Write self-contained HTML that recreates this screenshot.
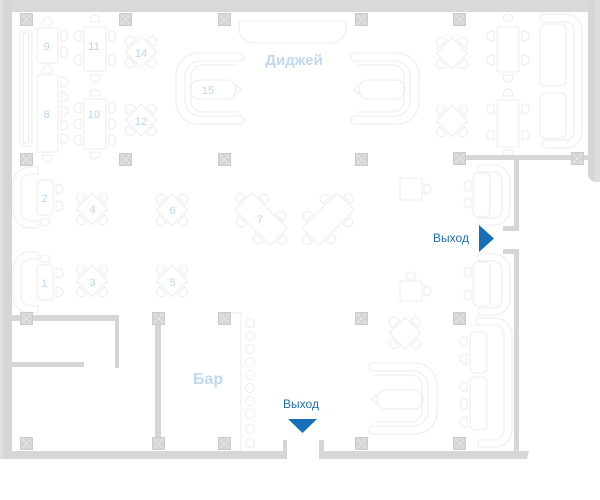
<!DOCTYPE html>
<html><head><meta charset="utf-8">
<style>
html,body{margin:0;padding:0;background:#fff;}
svg{display:block;}
text{font-family:"Liberation Sans","DejaVu Sans",sans-serif;}
</style></head><body>
<svg width="600" height="500" viewBox="0 0 600 500" xmlns="http://www.w3.org/2000/svg">
<defs>
<path id="ch" d="M0,-5 C5,-5 7,-3 7,0 C7,3 5,5 0,5 Z"/>
<g id="pl"><rect x="0.5" y="0.5" width="12" height="12" fill="#d3d3d3" stroke="#cbcbcb"/><rect x="2" y="2" width="9" height="9" fill="none" stroke="#dedede" stroke-width="0.8"/><path d="M2.5,2.5 L10.5,10.5 M10.5,2.5 L2.5,10.5" stroke="#e8e8e8" stroke-width="1"/></g>
<g id="dt"><rect x="-11" y="-11" width="22" height="22" transform="rotate(45)"/><use href="#ch" transform="rotate(-45) translate(13,0)"/><use href="#ch" transform="rotate(45) translate(13,0)"/><use href="#ch" transform="rotate(135) translate(13,0)"/><use href="#ch" transform="rotate(225) translate(13,0)"/></g>
<g id="t6"><rect x="-25" y="-12" width="50" height="24" rx="2"/><use href="#ch" transform="translate(-12,-14) rotate(-90)"/><use href="#ch" transform="translate(12,-14) rotate(-90)"/><use href="#ch" transform="translate(-12,14) rotate(90)"/><use href="#ch" transform="translate(12,14) rotate(90)"/><use href="#ch" transform="translate(-27,0) scale(-1,1)"/><use href="#ch" transform="translate(27,0)"/></g>
<g id="sofa"><path d="M240,53 H198 A22,22 0 0 0 176,75 V102 A22,22 0 0 0 198,124 H240 A4,4 0 0 0 240,116 H200 A15,15 0 0 1 185,101 V76 A15,15 0 0 1 200,61 H240 A4,4 0 0 0 240,53 Z"/><path d="M238,65 H202 A11,11 0 0 0 191,76 V101 A11,11 0 0 0 202,112 H238"/><rect x="190" y="80" width="46" height="19" rx="9"/><path d="M236,84 L241,89.5 L236,95"/></g>
</defs>

<!-- furniture -->
<g fill="none" stroke="#ececec" stroke-width="1">
<!-- top-left -->
<rect x="20" y="30" width="12" height="116" rx="3"/>
<rect x="23.5" y="33" width="5" height="110" rx="2"/>
<rect x="37" y="28" width="21" height="35" rx="2"/>
<rect x="37" y="75" width="21" height="77" rx="2"/>
<use href="#ch" transform="translate(47.5,25) rotate(-90)"/>
<use href="#ch" transform="translate(47.5,73) rotate(-90)"/>
<use href="#ch" transform="translate(47.5,155) rotate(90)"/>
<use href="#ch" transform="translate(61,36)"/><use href="#ch" transform="translate(61,52)"/>
<use href="#ch" transform="translate(61,82)"/><use href="#ch" transform="translate(61,97)"/><use href="#ch" transform="translate(61,111)"/><use href="#ch" transform="translate(61,125)"/><use href="#ch" transform="translate(61,139)"/>
<rect x="84" y="27" width="22" height="44" rx="2"/>
<rect x="84" y="99" width="22" height="50" rx="2"/>
<use href="#ch" transform="translate(81,36) scale(-1,1)"/><use href="#ch" transform="translate(81,60) scale(-1,1)"/>
<use href="#ch" transform="translate(109,36)"/><use href="#ch" transform="translate(109,60)"/>
<use href="#ch" transform="translate(81,108) scale(-1,1)"/><use href="#ch" transform="translate(81,124) scale(-1,1)"/><use href="#ch" transform="translate(81,140) scale(-1,1)"/>
<use href="#ch" transform="translate(109,108)"/><use href="#ch" transform="translate(109,124)"/><use href="#ch" transform="translate(109,140)"/>
<use href="#ch" transform="translate(95,22) rotate(-90)"/><use href="#ch" transform="translate(95,75) rotate(90)"/>
<use href="#ch" transform="translate(95,96) rotate(-90)"/><use href="#ch" transform="translate(95,152) rotate(90)"/>
<use href="#dt" transform="translate(141,52)"/>
<use href="#dt" transform="translate(141,120)"/>
<!-- sofas top -->
<use href="#sofa"/>
<use href="#sofa" transform="translate(595,0) scale(-1,1)"/>
<path d="M239,21 H346 V28 A15,15 0 0 1 331,43 H254 A15,15 0 0 1 239,28 Z"/>
<!-- top-right -->
<use href="#dt" transform="translate(452,53)"/>
<use href="#dt" transform="translate(452,121)"/>
<rect x="497" y="27" width="22" height="45" rx="2"/>
<rect x="497" y="100" width="22" height="47" rx="2"/>
<use href="#ch" transform="translate(494,36) scale(-1,1)"/><use href="#ch" transform="translate(494,60) scale(-1,1)"/>
<use href="#ch" transform="translate(494,109) scale(-1,1)"/><use href="#ch" transform="translate(494,135) scale(-1,1)"/>
<use href="#ch" transform="translate(522,36)"/><use href="#ch" transform="translate(522,60)"/>
<use href="#ch" transform="translate(522,109)"/><use href="#ch" transform="translate(522,135)"/>
<use href="#ch" transform="translate(508,21) rotate(-90)"/><use href="#ch" transform="translate(508,75) rotate(90)"/>
<use href="#ch" transform="translate(508,96) rotate(-90)"/><use href="#ch" transform="translate(508,150) rotate(90)"/>
<path d="M543,14 H566 A16,16 0 0 1 582,30 V132 A16,16 0 0 1 566,148 H546 A4,4 0 0 1 546,140 H566 A8,8 0 0 0 574,132 V30 A8,8 0 0 0 566,22 H546 A4,4 0 0 1 543,14 Z"/>
<rect x="540" y="24" width="26" height="62" rx="5"/>
<rect x="540" y="93" width="26" height="45" rx="5"/>
<!-- middle-left -->
<path d="M38,167 H30 A17,17 0 0 0 13,184 V211 A17,17 0 0 0 30,228 H38 V221 H31 A10,10 0 0 1 21,211 V184 A10,10 0 0 1 31,174 H38 Z"/>
<rect x="37" y="180" width="16" height="35" rx="3"/>
<use href="#ch" transform="translate(56,189)"/><use href="#ch" transform="translate(56,206)"/>
<use href="#ch" transform="translate(45,219) rotate(90)"/>
<path d="M38,252 H30 A17,17 0 0 0 13,269 V296 A17,17 0 0 0 30,313 H38 V306 H31 A10,10 0 0 1 21,296 V269 A10,10 0 0 1 31,259 H38 Z"/>
<rect x="37" y="265" width="16" height="35" rx="3"/>
<use href="#ch" transform="translate(56,273)"/><use href="#ch" transform="translate(56,292)"/>
<use href="#ch" transform="translate(45,262) rotate(-90)"/>
<use href="#dt" transform="translate(92,209)"/>
<use href="#dt" transform="translate(172,210)"/>
<use href="#dt" transform="translate(92,281)"/>
<use href="#dt" transform="translate(172,281)"/>
<use href="#t6" transform="translate(261,219) rotate(45)"/>
<use href="#t6" transform="translate(328,219) rotate(-45)"/>
<!-- middle-right -->
<rect x="400" y="178" width="22" height="22" rx="2"/>
<use href="#ch" transform="translate(424,189)"/>
<rect x="400" y="281" width="22" height="20" rx="2"/>
<use href="#ch" transform="translate(424,291)"/>
<use href="#ch" transform="translate(411,279) rotate(-90)"/>
<path d="M478,165 H494 A16,16 0 0 1 510,181 V209 A16,16 0 0 1 494,225 H478 V218 H493 A9,9 0 0 0 502,209 V181 A9,9 0 0 0 493,172 H478 Z"/>
<rect x="473" y="173" width="17" height="44" rx="5"/>
<use href="#ch" transform="translate(471,186) scale(-1,1)"/><use href="#ch" transform="translate(471,203) scale(-1,1)"/>
<path d="M478,254 H494 A16,16 0 0 1 510,270 V299 A16,16 0 0 1 494,315 H478 V308 H493 A9,9 0 0 0 502,299 V270 A9,9 0 0 0 493,261 H478 Z"/>
<rect x="473" y="262" width="17" height="44" rx="5"/>
<use href="#ch" transform="translate(471,272) scale(-1,1)"/><use href="#ch" transform="translate(471,295) scale(-1,1)"/>
<!-- bottom-right -->
<use href="#dt" transform="translate(405,333)"/>
<use href="#sofa" transform="translate(613,310) scale(-1,1)"/>
<path d="M476,318 H495 A17,17 0 0 1 512,335 V430 A17,17 0 0 1 495,447 H478 V440 H494 A10,10 0 0 0 504,430 V335 A10,10 0 0 0 494,325 H476 Z"/>
<rect x="470" y="332" width="17" height="41" rx="5"/>
<rect x="470" y="377" width="17" height="53" rx="5"/>
<use href="#ch" transform="translate(467,341) scale(-1,1)"/><use href="#ch" transform="translate(467,359) scale(-1,1)"/>
<use href="#ch" transform="translate(467,387) scale(-1,1)"/><use href="#ch" transform="translate(467,404) scale(-1,1)"/><use href="#ch" transform="translate(467,422) scale(-1,1)"/>
<!-- bar -->
<path d="M230,313 H241 V451 H230"/>
<circle cx="250" cy="323" r="4.5"/><circle cx="250" cy="336" r="4.5"/><circle cx="250" cy="349" r="4.5"/><circle cx="250" cy="362" r="4.5"/><circle cx="250" cy="375" r="4.5"/><circle cx="250" cy="388" r="4.5"/><circle cx="250" cy="401" r="4.5"/><circle cx="250" cy="414" r="4.5"/><circle cx="250" cy="429" r="4.5"/><circle cx="250" cy="443" r="4.5"/>
</g>

<!-- walls -->
<g fill="#d6d6d6">
<rect x="0" y="0" width="600" height="12" fill="#d9d9d9"/>
<rect x="0" y="0" width="3" height="459" fill="#e0e0e0"/>
<rect x="3" y="0" width="9" height="459"/>
<path d="M588,0 H600 V182 H596 A8,8 0 0 1 588,174 Z"/>
<rect x="595" y="0" width="5" height="182" fill="#dedede"/>
<rect x="3" y="451" width="284" height="8"/>
<rect x="283" y="440" width="4" height="12"/>
<rect x="319" y="440" width="5" height="12"/>
<path d="M319,451 H529 L527,459 H319 Z"/>
<rect x="465" y="155" width="124" height="5"/>
<rect x="514" y="158" width="5" height="73"/>
<rect x="503" y="226" width="16" height="5"/>
<rect x="503" y="249" width="16" height="5"/>
<rect x="514" y="249" width="5" height="203"/>
<rect x="12" y="315" width="107" height="6"/>
<rect x="115" y="315" width="4" height="53"/>
<rect x="12" y="362" width="72" height="5"/>
<rect x="155" y="320" width="6" height="120"/>
</g>

<!-- pillars -->
<use href="#pl" x="20" y="13"/><use href="#pl" x="119" y="13"/><use href="#pl" x="218" y="13"/><use href="#pl" x="355" y="13"/><use href="#pl" x="453" y="13"/>
<use href="#pl" x="20" y="153"/><use href="#pl" x="119" y="153"/><use href="#pl" x="218" y="153"/><use href="#pl" x="355" y="153"/><use href="#pl" x="453" y="152"/><use href="#pl" x="571" y="152"/>
<use href="#pl" x="20" y="312"/><use href="#pl" x="152" y="312"/><use href="#pl" x="218" y="312"/><use href="#pl" x="355" y="312"/><use href="#pl" x="453" y="312"/>
<use href="#pl" x="20" y="437"/><use href="#pl" x="152" y="437"/><use href="#pl" x="218" y="437"/><use href="#pl" x="355" y="437"/><use href="#pl" x="453" y="437"/>

<!-- labels -->
<g fill="#bcd5ee" font-size="11" text-anchor="middle">
<text x="46.5" y="50">9</text>
<text x="94" y="50">11</text>
<text x="141" y="57">14</text>
<text x="46.5" y="118">8</text>
<text x="94" y="118">10</text>
<text x="141" y="125">12</text>
<text x="208" y="94">15</text>
<text x="44.5" y="202">2</text>
<text x="92.5" y="213">4</text>
<text x="172.5" y="214">6</text>
<text x="260" y="223">7</text>
<text x="44.5" y="287">1</text>
<text x="92.5" y="286">3</text>
<text x="172.5" y="286">5</text>
</g>
<text x="294" y="65" fill="#c0d8ef" font-size="15" font-weight="bold" text-anchor="middle">Диджей</text>
<text x="193" y="384" fill="#c0d8ef" font-size="16" font-weight="bold">Бар</text>

<text x="451" y="242" fill="#1f6fb2" font-size="12" text-anchor="middle">Выход</text>
<polygon points="479,225 494,238.5 479,252" fill="#176fba"/>
<text x="301" y="408" fill="#1f6fb2" font-size="12" text-anchor="middle">Выход</text>
<polygon points="288,419 317,419 302.5,433" fill="#176fba"/>
</svg>
</body></html>
